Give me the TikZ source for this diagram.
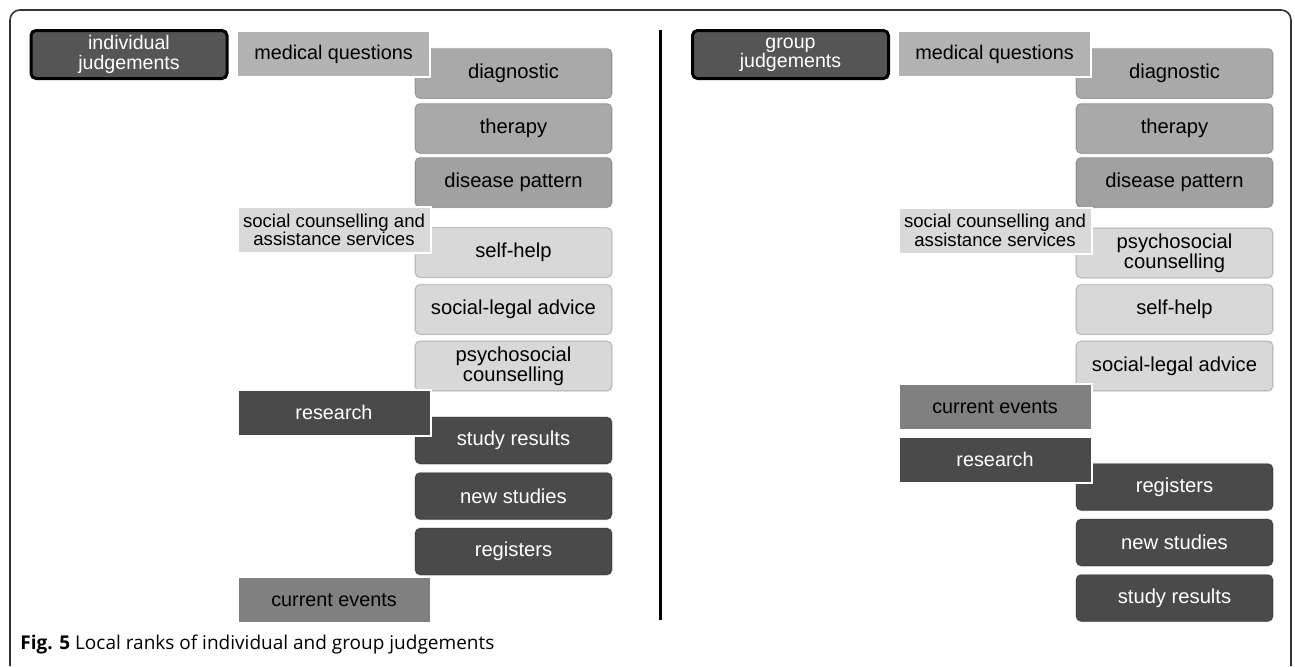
\documentclass[tikz,border=0pt]{standalone}
\usepackage{fontspec}
\setmainfont{Liberation Sans}
\newfontfamily\capfont{Open Sans}
\usetikzlibrary{positioning}
\definecolor{judgefill}{HTML}{555555}
\definecolor{medtop}{HTML}{B3B3B3}
\definecolor{medsub}{HTML}{A9A9A9}
\definecolor{soctop}{HTML}{D9D9D9}
\definecolor{socsub}{HTML}{D8D8D8}
\definecolor{resfill}{HTML}{4A4A4A}
\definecolor{curfill}{HTML}{808080}
\definecolor{framegray}{HTML}{333333}

\begin{document}
\begin{tikzpicture}[x=0.5pt, y=-0.5pt,
  judge/.style={draw=black, line width=1.5pt, rounded corners=2.5pt, fill=judgefill,
    text=white, minimum width=98pt, minimum height=24pt, inner sep=0pt, align=center,
    font=\fontsize{9.8}{9.6}\selectfont},
  topic/.style={draw=white, line width=1pt, minimum width=96.5pt, minimum height=23pt,
    inner sep=0pt, align=center, font=\fontsize{9.9}{10}\selectfont},
  item/.style={draw=black, draw opacity=0.18, line width=0.6pt, rounded corners=2.5pt,
    minimum width=98.5pt, minimum height=25pt, inner sep=0pt, align=center,
    font=\fontsize{10.1}{10.2}\selectfont},
  smalltxt/.style={font=\fontsize{9.3}{9.3}\selectfont},
  dark/.style={text=white}]
\useasboundingbox (0,0) rectangle (1295,666);

% frame and divider
\draw[framegray, line width=0.8pt, rounded corners=5pt] (10,666) -- (10,10) -- (1291,10) -- (1291,666);
\draw[line width=1.5pt] (660,30) -- (660,620);

% individual judgements
\node[item, fill=medsub] (idiag) at (513.5,73.5) {diagnostic};
\node[item, fill=medsub] (ither) at (513.5,128.5) {therapy};
\node[item, fill=medsub!95!black] (idis) at (513.5,182.5) {disease pattern};
\node[item, fill=socsub] (iself) at (513.5,252.5) {self-help};
\node[item, fill=socsub] (ilegal) at (513.5,309.5) {social-legal advice};
\node[item, fill=socsub] (ipsy) at (513.5,366) {psychosocial\\counselling};
\node[item, dark, fill=resfill, minimum height=23.5pt] (istudy) at (513.5,440.5) {study results};
\node[item, dark, fill=resfill, minimum height=23.5pt] (inew) at (513.5,496) {new studies};
\node[item, dark, fill=resfill, minimum height=23.5pt] (ireg) at (513.5,551.5) {registers};

\node[topic, fill=medtop] (imed) at (333.5,54) {medical questions};
\node[topic, fill=soctop, smalltxt] (isoc) at (334,230) {social counselling and\\assistance services};
\node[topic, dark, fill=resfill] (ires) at (334,412.5) {research};
\node[topic, fill=curfill] (icur) at (334,600) {current events};

\node[judge] (indiv) at (129,54.5) {individual\\judgements};

% group judgements
\node[item, fill=medsub] (gdiag) at (1174.5,73.5) {diagnostic};
\node[item, fill=medsub] (gther) at (1174.5,128.5) {therapy};
\node[item, fill=medsub!95!black] (gdis) at (1174.5,182.5) {disease pattern};
\node[item, fill=socsub] (gpsy) at (1174.5,253) {psychosocial\\counselling};
\node[item, fill=socsub] (gself) at (1174.5,309.5) {self-help};
\node[item, fill=socsub] (glegal) at (1174.5,366) {social-legal advice};
\node[item, dark, fill=resfill, minimum height=23.5pt] (greg) at (1174.5,487) {registers};
\node[item, dark, fill=resfill, minimum height=23.5pt] (gnew) at (1174.5,542.5) {new studies};
\node[item, dark, fill=resfill, minimum height=23.5pt] (gstudy) at (1174.5,598) {study results};

\node[topic, fill=medtop] (gmed) at (994.5,54) {medical questions};
\node[topic, fill=soctop, smalltxt] (gsoc) at (995,230.5) {social counselling and\\assistance services};
\node[topic, fill=curfill] (gcur) at (995,407) {current events};
\node[topic, dark, fill=resfill] (gres) at (995,459.5) {research};

\node[judge] (group) at (790.5,54.5) {group\\judgements};

\node[anchor=base west, inner sep=0pt, font=\capfont\fontsize{9.5}{11}\selectfont] (caption) at (20,649)
  {\textbf{Fig. 5} Local ranks of individual and group judgements};
\end{tikzpicture}
\end{document}
